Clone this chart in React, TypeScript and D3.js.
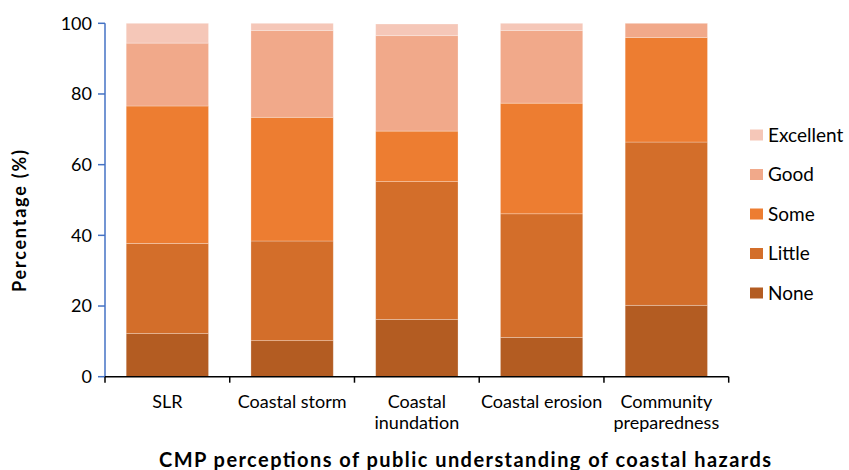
import * as d3 from 'd3';

const categories = [['SLR'], ['Coastal storm'], ['Coastal', 'inundation'], ['Coastal erosion'], ['Community', 'preparedness']];
const levels = ['None', 'Little', 'Some', 'Good', 'Excellent'];
const noneVals = [12.2, 10.2, 16.2, 11.1, 20.2];
const littleVals = [25.5, 28.2, 39.0, 35.0, 46.2];
const someVals = [38.9, 35.0, 14.3, 31.3, 29.6];
const goodVals = [17.8, 24.6, 27.0, 20.6, 4.0];
const excellentVals = [5.6, 2.0, 3.3, 2.0, 0];
const yTicks = [0, 20, 40, 60, 80, 100];
const colors = ['#B35C22', '#D36E2A', '#ED7D31', '#F1A98A', '#F5C7B8'];

export default function App() {
  const width = 849;
  const height = 470;
  const left = 105, right = 728.7, top = 23.3, bottom = 376.7;
  const font = 'Lato, "Open Sans", sans-serif';

  const keys = categories.map(c => c.join(' '));
  const series = [noneVals, littleVals, someVals, goodVals, excellentVals];
  const rows = keys.map((k, i) => {
    const r: Record<string, number | string> = { key: k };
    levels.forEach((l, j) => { r[l] = series[j][i]; });
    return r;
  });
  const stacked = d3.stack<any>().keys(levels)(rows);

  const x = d3.scaleBand().domain(keys).range([left, right]).paddingInner(0.34).paddingOuter(0.17);
  const xTicks = d3.scaleBand().domain(keys).range([left, right]);
  const y = d3.scaleLinear().domain([0, 100]).range([bottom, top]);
  const color = d3.scaleOrdinal<string>().domain(levels).range(colors);

  return (
    <svg width={width} height={height} style={{ position: 'absolute', left: 0, top: 0 }}>
      <rect width={width} height={height} fill="#fff" />
      {stacked.map(s => (
        <g key={s.key} fill={color(s.key)}>
          {s.map((d, i) => (
            d[1] - d[0] > 0 ? (
              <rect key={i} x={x(keys[i])} width={x.bandwidth()} y={y(d[1])} height={y(d[0]) - y(d[1])}
                stroke="#fff" strokeOpacity={0.35} strokeWidth={0.75} />
            ) : null
          ))}
        </g>
      ))}
      {/* y axis */}
      <line x1={left} x2={left} y1={top} y2={bottom} stroke="#4472C4" strokeWidth={1.5} />
      {yTicks.map(t => (
        <g key={t}>
          <line x1={left - 7} x2={left} y1={y(t)} y2={y(t)} stroke="#4472C4" strokeWidth={1.5} />
          <text x={left - 13} y={y(t)} dy="0.35em" textAnchor="end" fontFamily={font} fontSize={18} fill="#000">{t}</text>
        </g>
      ))}
      {/* x axis */}
      <line x1={left} x2={right} y1={bottom} y2={bottom} stroke="#000" strokeWidth={1.5} />
      {[...keys.map(k => xTicks(k)!), right].map((tx, i) => (
        <line key={i} x1={tx} x2={tx} y1={bottom} y2={bottom + 6} stroke="#000" strokeWidth={1.5} />
      ))}
      {categories.map((c, i) => (
        <text key={i} x={xTicks(keys[i])! + xTicks.bandwidth() / 2} y={408} textAnchor="middle" fontFamily={font} fontSize={18} fill="#000">
          {c.map((line, j) => <tspan key={j} x={xTicks(keys[i])! + xTicks.bandwidth() / 2} dy={j === 0 ? 0 : 21}>{line}</tspan>)}
        </text>
      ))}
      <text transform="translate(26,221) rotate(-90)" textAnchor="middle" fontFamily={font} fontSize={18} fontWeight="bold" fill="#000" textLength={142} lengthAdjust="spacing">Percentage (%)</text>
      <text x={465} y={467} textAnchor="middle" fontFamily={font} fontSize={20} fontWeight="bold" fill="#000" textLength={612} lengthAdjust="spacing">CMP perceptions of public understanding of coastal hazards</text>
      {/* legend */}
      {[...levels].reverse().map((l, i) => (
        <g key={l} transform={`translate(750,${135 + i * 39.5})`}>
          <rect x={0} y={-5.5} width={13} height={11} fill={color(l)} />
          <text x={18} y={0} dy="0.35em" fontFamily={font} fontSize={19} fill="#000">{l}</text>
        </g>
      ))}
    </svg>
  );
}
